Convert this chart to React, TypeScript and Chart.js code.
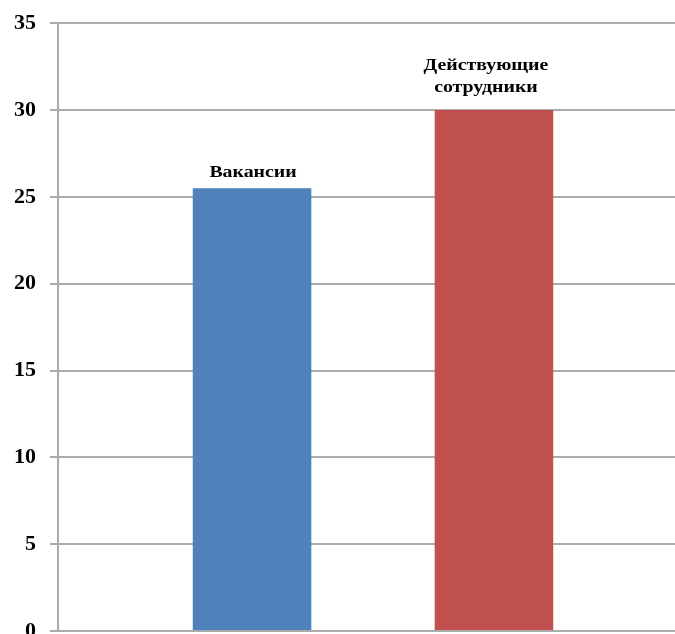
import React, { useEffect, useRef } from "react";
import { Chart, registerables } from "chart.js";

Chart.register(...registerables);

const categories = [""];
const seriesNames = ["Вакансии", "Действующие сотрудники"];
const seriesValues = [25.5, 30];
const seriesColors = ["#4f81bd", "#c0504d"];
const yTicks = [0, 5, 10, 15, 20, 25, 30, 35];

const labelPlugin = {
  id: "seriesNameLabels",
  afterDatasetsDraw(chart: any) {
    const ctx = chart.ctx;
    chart.data.datasets.forEach((ds: any, i: number) => {
      const meta = chart.getDatasetMeta(i);
      meta.data.forEach((bar: any) => {
        const lines = ds.labelLines as string[];
        const gap = ds.labelGap ?? 12;
        const dx = ds.labelDx ?? 0;
        const lineH = 22;
        ctx.save();
        ctx.font = "bold 16px 'Liberation Serif', 'Times New Roman', serif";
        ctx.fillStyle = "#000";
        ctx.textAlign = "center";
        ctx.textBaseline = "alphabetic";
        lines.forEach((line, li) => {
          const y = bar.y - gap - (lines.length - 1 - li) * lineH;
          ctx.save();
          ctx.translate(bar.x + dx, y);
          ctx.scale(1.24, 1);
          ctx.fillText(line, 0, 0);
          ctx.restore();
        });
        ctx.restore();
      });
    });
  },
};

export default function App() {
  const ref = useRef<HTMLCanvasElement>(null);
  useEffect(() => {
    if (!ref.current) return;
    const chart = new Chart(ref.current, {
      type: "bar",
      data: {
        labels: categories,
        datasets: seriesNames.map((name, i) => ({
          label: name,
          data: [seriesValues[i]],
          backgroundColor: seriesColors[i],
          borderWidth: 0,
          categoryPercentage: 0.768,
          barPercentage: 0.49,
          labelLines: name.split(" "),
          labelGap: i === 0 ? 11 : 18,
          labelDx: i === 0 ? 1 : -8,
        })) as any,
      },
      options: {
        responsive: false,
        devicePixelRatio: 1,
        animation: false,
        layout: { padding: { top: 0, bottom: 35, left: 0, right: 2 } },
        plugins: { legend: { display: false }, tooltip: { enabled: false } },
        scales: {
          x: { display: false },
          y: {
            min: 0,
            max: 35,
            afterBuildTicks: (scale: any) => {
              scale.ticks = yTicks.map((v) => ({ value: v }));
            },
            ticks: {
              padding: 14,
              color: "#000",
              font: { family: "'Liberation Serif', 'Times New Roman', serif", size: 22, weight: "bold" },
            },
            grid: { color: "#ababab", lineWidth: 2, tickLength: 8, tickColor: "#ababab" },
            border: { display: true, color: "#ababab", width: 2 },
          },
        },
      },
      plugins: [labelPlugin],
    });
    return () => chart.destroy();
  }, []);
  return (
    <div
      style={{
        position: "fixed",
        left: 0,
        top: 0,
        width: 675,
        height: 634,
        overflow: "hidden",
        background: "#fff",
      }}
    >
      <canvas
        ref={ref}
        width={690}
        height={670}
        style={{ display: "block", width: 690, height: 670, marginTop: -4.5 }}
      />
    </div>
  );
}
